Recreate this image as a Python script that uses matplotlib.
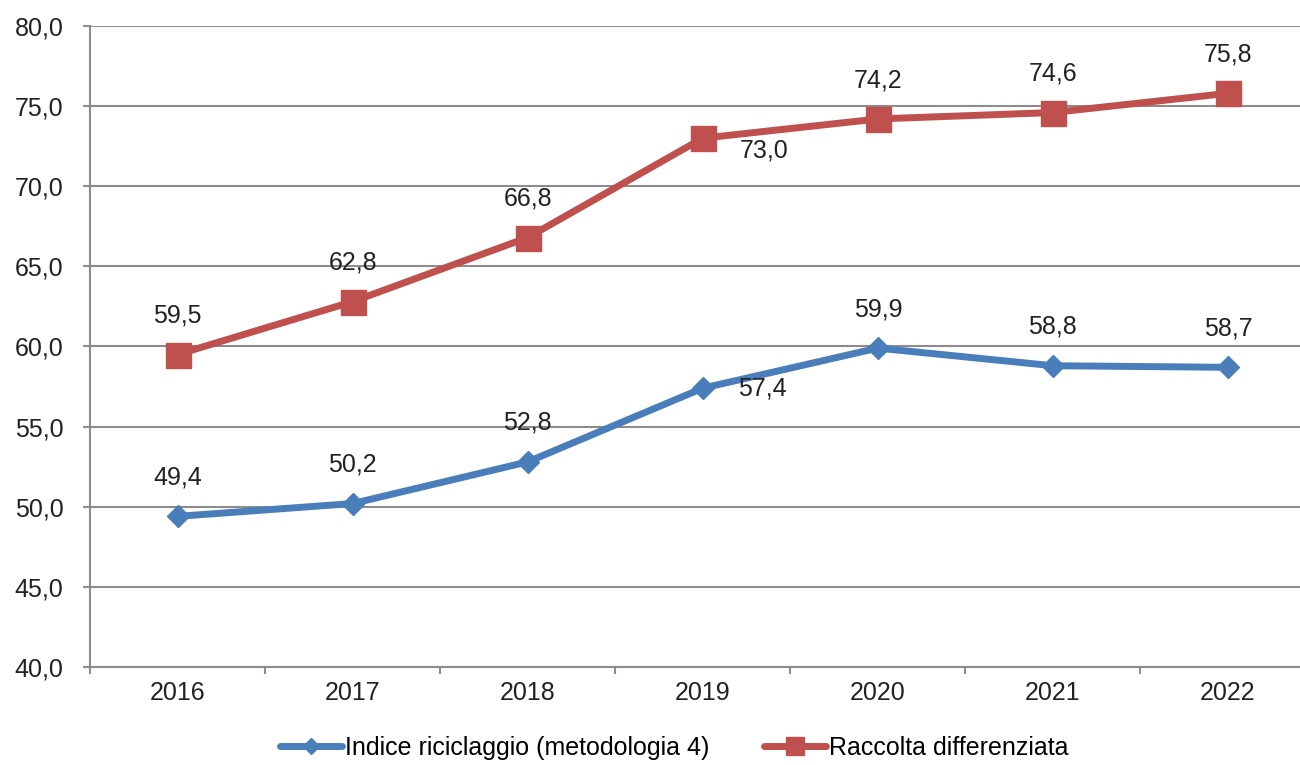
import matplotlib
matplotlib.use("Agg")
import matplotlib.pyplot as plt
from matplotlib.ticker import FuncFormatter, FixedLocator

plt.rcParams['font.family'] = ['Liberation Sans', 'DejaVu Sans']

years = ["2016", "2017", "2018", "2019", "2020", "2021", "2022"]
indice = [49.4, 50.2, 52.8, 57.4, 59.9, 58.8, 58.7]
raccolta = [59.5, 62.8, 66.8, 73.0, 74.2, 74.6, 75.8]
yticks = [40, 45, 50, 55, 60, 65, 70, 75, 80]

blue = "#4a7ebb"
red = "#c0504d"
grid_c = "#8c8c8c"
txt_c = "#222222"
FS = 18

fig = plt.figure(figsize=(13, 7.65), dpi=100)
ax = fig.add_axes([90/1300, 98/765, 1210/1300, 641/765])
x = list(range(len(years)))

ax.plot(x, indice, color=blue, lw=5, marker="D", ms=11, mfc=blue, mec=blue,
        label="Indice riciclaggio (metodologia 4)", zorder=3, solid_capstyle='round')
ax.plot(x, raccolta, color=red, lw=5, marker="s", ms=18, mfc=red, mec=red,
        label="Raccolta differenziata", zorder=4, solid_capstyle='round')

def fmt(v):
    return f"{v:.1f}".replace(".", ",")

for i, v in enumerate(indice):
    if i == 3:
        off = (43, 0)
    else:
        off = (0, 28)
    ax.annotate(fmt(v), (i, v), xytext=off, textcoords="offset points",
                ha="center", va="center", fontsize=FS, color=txt_c)
for i, v in enumerate(raccolta):
    if i == 3:
        off = (44, -9)
    else:
        off = (0, 28)
    ax.annotate(fmt(v), (i, v), xytext=off, textcoords="offset points",
                ha="center", va="center", fontsize=FS, color=txt_c)

ax.set_ylim(40, 80)
ax.set_xlim(-0.5, 6 + 72/175)
ax.set_yticks(yticks)
ax.yaxis.set_major_formatter(FuncFormatter(lambda v, p: fmt(v)))
ax.set_xticks(x)
ax.set_xticklabels(years)
ax.xaxis.set_minor_locator(FixedLocator([i + 0.5 for i in range(-1, 6)]))
ax.tick_params(axis="x", which="major", length=0, pad=10, labelsize=FS, colors=txt_c)
ax.tick_params(axis="x", which="minor", length=5, width=1.5, color=grid_c)
ax.tick_params(axis="y", length=5, width=1.5, color=grid_c, labelsize=FS, labelcolor=txt_c, pad=14)

ax.grid(axis="y", color=grid_c, lw=1.5)
ax.set_axisbelow(True)
for s in ["top", "right"]:
    ax.spines[s].set_visible(False)
ax.spines["left"].set_color(grid_c)
ax.spines["left"].set_linewidth(1.5)
ax.spines["bottom"].set_color(grid_c)
ax.spines["bottom"].set_linewidth(1.5)

leg = fig.legend(loc="center", bbox_to_anchor=(674/1300, 1 - 748/765), ncol=2, frameon=False,
                 fontsize=FS, handlelength=2.5, columnspacing=2.2, handletextpad=0.1,
                 markerscale=0.7)

fig.savefig("out.png", dpi=100)
